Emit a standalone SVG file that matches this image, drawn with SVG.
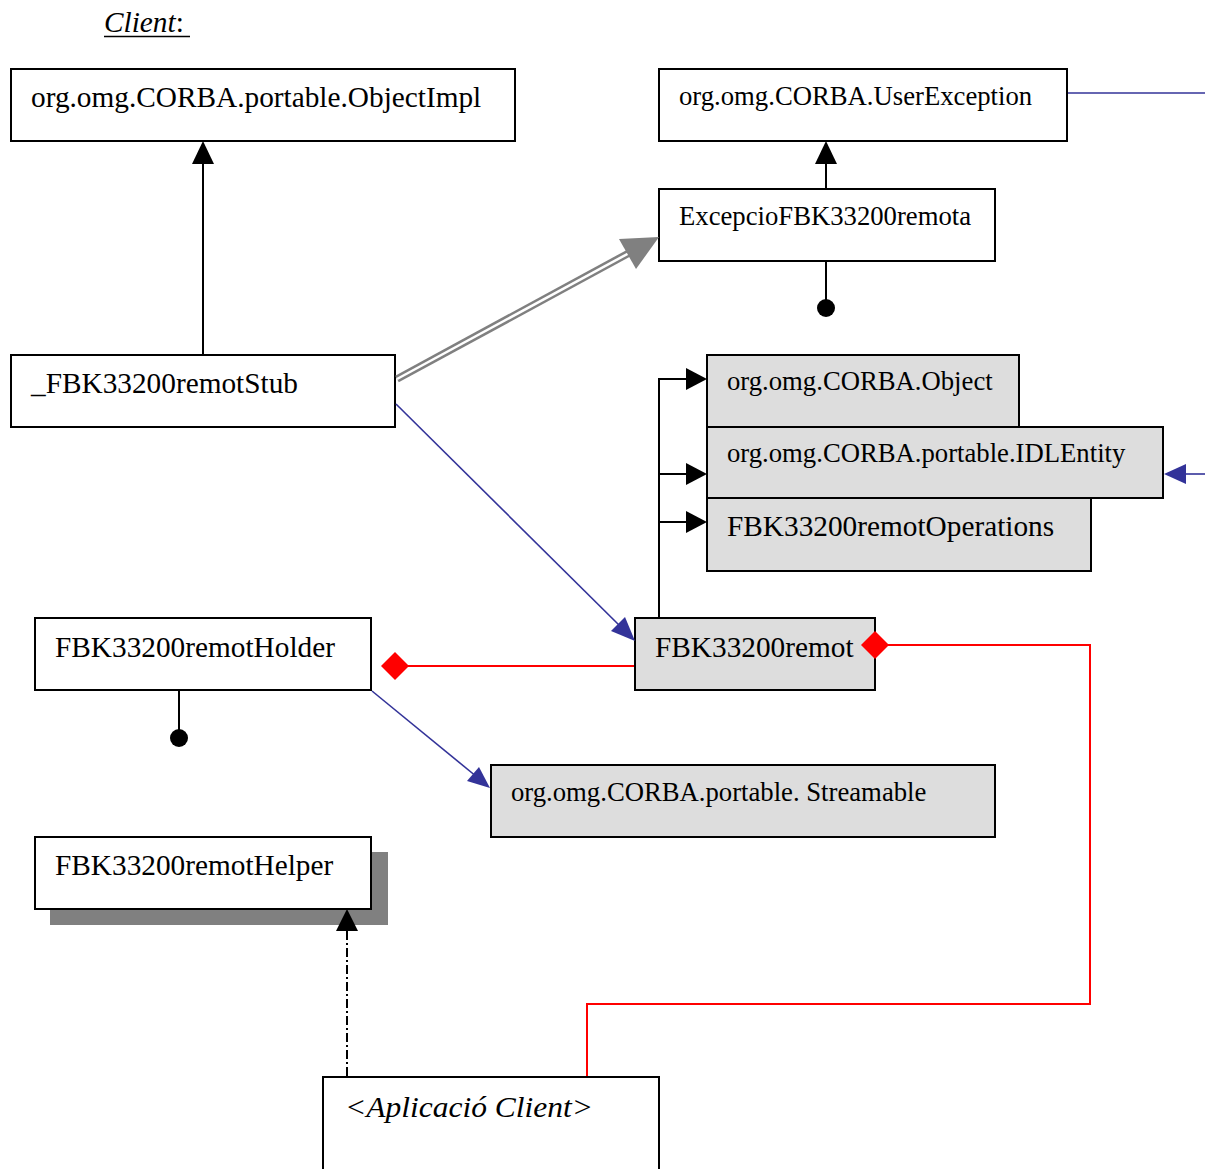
<svg xmlns="http://www.w3.org/2000/svg" width="1205" height="1169" viewBox="0 0 1205 1169">
  <style>
    .box { fill: #ffffff; stroke: #000000; stroke-width: 2; }
    .iface { fill: #dddddd; stroke: #000000; stroke-width: 2; }
    .t { font-family: "Liberation Serif", "Times New Roman", serif; fill: #000000; }
    .lg { font-size: 29.3px; }
    .sm { font-size: 26.7px; }
    .it { font-style: italic; }
    .blk { stroke: #000000; stroke-width: 2; fill: none; }
    .blue { stroke: #333399; stroke-width: 1.6; fill: none; }
    .red { stroke: #ff0000; stroke-width: 2; fill: none; }
    .head { fill: #000000; }
    .bhead { fill: #333399; }
    .rdia { fill: #ff0000; }
  </style>

  <rect width="1205" height="1169" fill="#ffffff"/>

  <!-- title -->
  <g id="title">
    <text class="t lg it" x="104" y="32">Client<tspan font-style="normal">:</tspan></text>
    <line x1="104" y1="36.5" x2="190" y2="36.5" stroke="#000000" stroke-width="1.5"/>
  </g>

  <!-- nodes -->
  <g id="objectimpl">
    <rect class="box" x="11" y="69" width="504" height="72"/>
    <text class="t lg" x="31" y="107">org.omg.CORBA.portable.ObjectImpl</text>
  </g>

  <g id="userexception">
    <rect class="box" x="659" y="69" width="408" height="72"/>
    <text class="t sm" x="679" y="105">org.omg.CORBA.UserException</text>
  </g>

  <g id="excepcio">
    <rect class="box" x="659" y="189" width="336" height="72"/>
    <text class="t sm" x="679" y="225">ExcepcioFBK33200remota</text>
  </g>

  <g id="stub">
    <rect class="box" x="11" y="355" width="384" height="72"/>
    <text class="t lg" x="31" y="393">_FBK33200remotStub</text>
  </g>

  <g id="corba-object">
    <rect class="iface" x="707" y="355" width="312" height="72"/>
    <text class="t sm" x="727" y="390">org.omg.CORBA.Object</text>
  </g>

  <g id="idlentity">
    <rect class="iface" x="707" y="427" width="456" height="71"/>
    <text class="t sm" x="727" y="462">org.omg.CORBA.portable.IDLEntity</text>
  </g>

  <g id="operations">
    <rect class="iface" x="707" y="498" width="384" height="73"/>
    <text class="t lg" x="727" y="536">FBK33200remotOperations</text>
  </g>

  <g id="remot">
    <rect class="iface" x="635" y="618" width="240" height="72"/>
    <text class="t lg" x="655" y="657">FBK33200remot</text>
  </g>

  <g id="holder">
    <rect class="box" x="35" y="618" width="336" height="72"/>
    <text class="t lg" x="55" y="657">FBK33200remotHolder</text>
  </g>

  <g id="streamable">
    <rect class="iface" x="491" y="765" width="504" height="72"/>
    <text class="t sm" x="511" y="801">org.omg.CORBA.portable. Streamable</text>
  </g>

  <g id="helper">
    <rect x="50" y="852" width="338" height="73" fill="#808080"/>
    <rect class="box" x="35" y="837" width="336" height="72"/>
    <text class="t lg" x="55" y="875">FBK33200remotHelper</text>
  </g>

  <g id="client-app">
    <rect class="box" x="323" y="1077" width="336" height="110"/>
    <text class="t lg it" x="345" y="1117" textLength="248" lengthAdjust="spacingAndGlyphs">&lt;Aplicació Client&gt;</text>
  </g>

  <!-- connectors -->
  <g id="connectors">
    <!-- stub extends ObjectImpl -->
    <line class="blk" x1="203" y1="354" x2="203" y2="162"/>
    <polygon class="head" points="203,141 192,164 214,164"/>

    <!-- exception extends UserException -->
    <line class="blk" x1="826" y1="188" x2="826" y2="162"/>
    <polygon class="head" points="826,141 815,164 837,164"/>

    <!-- exception lollipop -->
    <line class="blk" x1="826" y1="262" x2="826" y2="300"/>
    <circle cx="826" cy="308" r="9" fill="#000000"/>

    <!-- stub throws exception (double line) -->
    <line x1="397" y1="379" x2="629" y2="253" stroke="#808080" stroke-width="7.5"/>
    <line x1="397" y1="379" x2="631" y2="252" stroke="#ffffff" stroke-width="2.5"/>
    <polygon fill="#808080" points="659,237 619,239 636,269"/>

    <!-- stub implements remot -->
    <line class="blue" x1="396" y1="404" x2="622" y2="628"/>
    <polygon class="bhead" points="635,641 625,617 611,631"/>

    <!-- UserException line to the right -->
    <line class="blue" x1="1068" y1="93" x2="1205" y2="93"/>

    <!-- IDLEntity incoming from the right -->
    <line class="blue" x1="1205" y1="474" x2="1184" y2="474"/>
    <polygon class="bhead" points="1164,474 1186,464 1186,484"/>

    <!-- remot extends Object / IDLEntity / Operations -->
    <polyline class="blk" points="659,617 659,379 688,379"/>
    <line class="blk" x1="659" y1="474" x2="688" y2="474"/>
    <line class="blk" x1="659" y1="522" x2="688" y2="522"/>
    <polygon class="head" points="707,379 686,368 686,390"/>
    <polygon class="head" points="707,474 686,463 686,485"/>
    <polygon class="head" points="707,522 686,511 686,533"/>

    <!-- holder aggregates remot -->
    <line class="red" x1="408" y1="666" x2="634" y2="666"/>
    <polygon class="rdia" points="381,666 395,652 409,666 395,680"/>

    <!-- remot aggregated by client app -->
    <polyline class="red" points="888,645 1090,645 1090,1004 587,1004 587,1076"/>
    <polygon class="rdia" points="861,645 875,631 889,645 875,659"/>

    <!-- holder lollipop -->
    <line class="blk" x1="179" y1="691" x2="179" y2="730"/>
    <circle cx="179" cy="738" r="9" fill="#000000"/>

    <!-- holder implements Streamable -->
    <line class="blue" x1="372" y1="691" x2="477" y2="777"/>
    <polygon class="bhead" points="490,788 479,767 467,781"/>

    <!-- client app uses helper -->
    <line x1="347" y1="1076" x2="347" y2="929" stroke="#000000" stroke-width="2" stroke-dasharray="9,3,2,3"/>
    <polygon class="head" points="347,909 336,931 358,931"/>
  </g>
</svg>
